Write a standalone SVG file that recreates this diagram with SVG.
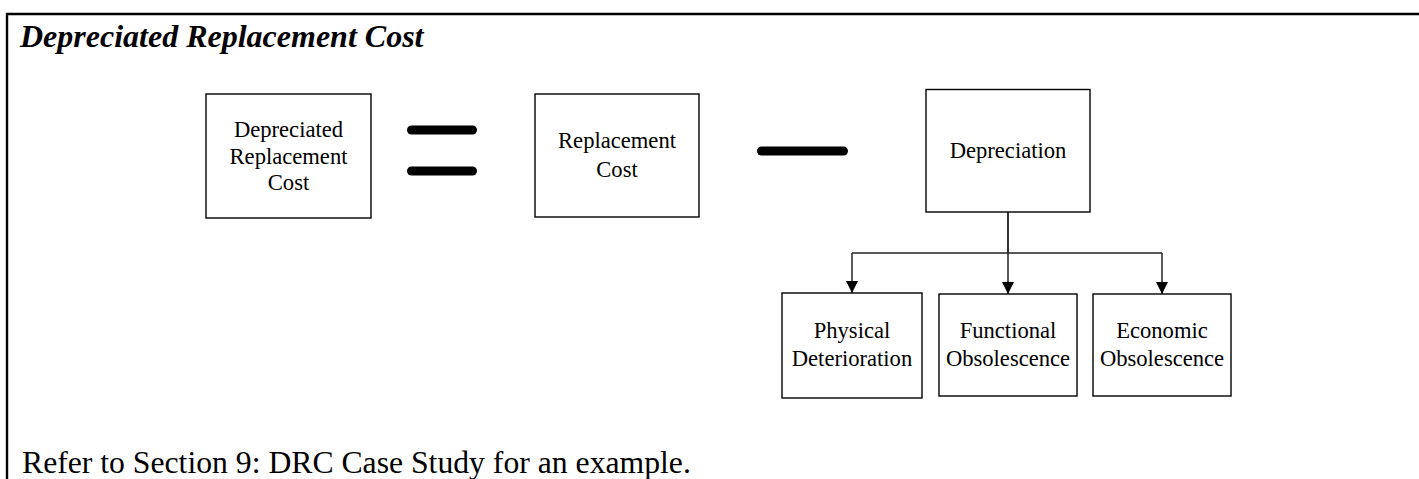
<svg xmlns="http://www.w3.org/2000/svg" width="1419" height="479" viewBox="0 0 1419 479">
<style>
.box{fill:#fff;stroke:#000;stroke-width:1.4}
.t{font-family:"Liberation Serif","Times New Roman",serif;font-size:22.6px;fill:#000;text-anchor:middle}
.op{stroke:#000;stroke-width:9;stroke-linecap:round}
.c{fill:none;stroke:#222;stroke-width:1.5}
</style>
<defs>
<marker id="ah" viewBox="0 0 12 12" refX="12" refY="6" markerWidth="12" markerHeight="12" markerUnits="userSpaceOnUse" orient="auto">
<path d="M0,0 L12,6 L0,12 Z" fill="#000"/>
</marker>
</defs>
<rect width="1419" height="479" fill="#fff"/>
<g id="frame">
<line x1="6" y1="14" x2="1419" y2="14" stroke="#000" stroke-width="2.4"/>
<line x1="7" y1="13" x2="7" y2="479" stroke="#000" stroke-width="2.4"/>
</g>
<text id="title" x="20" y="47" font-family="'Liberation Serif','Times New Roman',serif" font-size="32" font-weight="bold" font-style="italic">Depreciated Replacement Cost</text>
<g id="n-drc">
<rect class="box" x="206" y="94" width="165" height="124"/>
<text class="t" x="288.5" y="137">Depreciated</text>
<text class="t" x="288.5" y="163.5">Replacement</text>
<text class="t" x="288.5" y="190">Cost</text>
</g>
<g id="op-eq">
<line class="op" x1="411.5" y1="130" x2="472.5" y2="130"/>
<line class="op" x1="411.5" y1="171" x2="472.5" y2="171"/>
</g>
<g id="n-rc">
<rect class="box" x="535" y="94" width="164" height="123"/>
<text class="t" x="617" y="148">Replacement</text>
<text class="t" x="617" y="177">Cost</text>
</g>
<g id="op-minus">
<line class="op" x1="761.5" y1="151" x2="843.5" y2="151"/>
</g>
<g id="n-dep">
<rect class="box" x="926" y="89.5" width="164" height="122.5"/>
<text class="t" x="1008" y="158">Depreciation</text>
</g>
<g id="connectors">
<line x1="1008" y1="212" x2="1008" y2="253" stroke="#000" stroke-width="1.6"/>
<line class="c" x1="852" y1="253" x2="1162" y2="253"/>
<line class="c" x1="852" y1="253" x2="852" y2="293" marker-end="url(#ah)"/>
<line class="c" x1="1008" y1="253" x2="1008" y2="294" marker-end="url(#ah)"/>
<line class="c" x1="1162" y1="253" x2="1162" y2="294" marker-end="url(#ah)"/>
</g>
<g id="n-phys">
<rect class="box" x="782" y="293" width="140" height="105"/>
<text class="t" x="852" y="338">Physical</text>
<text class="t" x="852" y="366">Deterioration</text>
</g>
<g id="n-func">
<rect class="box" x="939" y="294" width="138" height="102"/>
<text class="t" x="1008" y="338">Functional</text>
<text class="t" x="1008" y="366">Obsolescence</text>
</g>
<g id="n-econ">
<rect class="box" x="1093" y="294" width="138" height="102"/>
<text class="t" x="1162" y="338">Economic</text>
<text class="t" x="1162" y="366">Obsolescence</text>
</g>
<text id="note" x="22" y="473" font-family="'Liberation Serif','Times New Roman',serif" font-size="31.7">Refer to Section 9: DRC Case Study for an example.</text>
</svg>
